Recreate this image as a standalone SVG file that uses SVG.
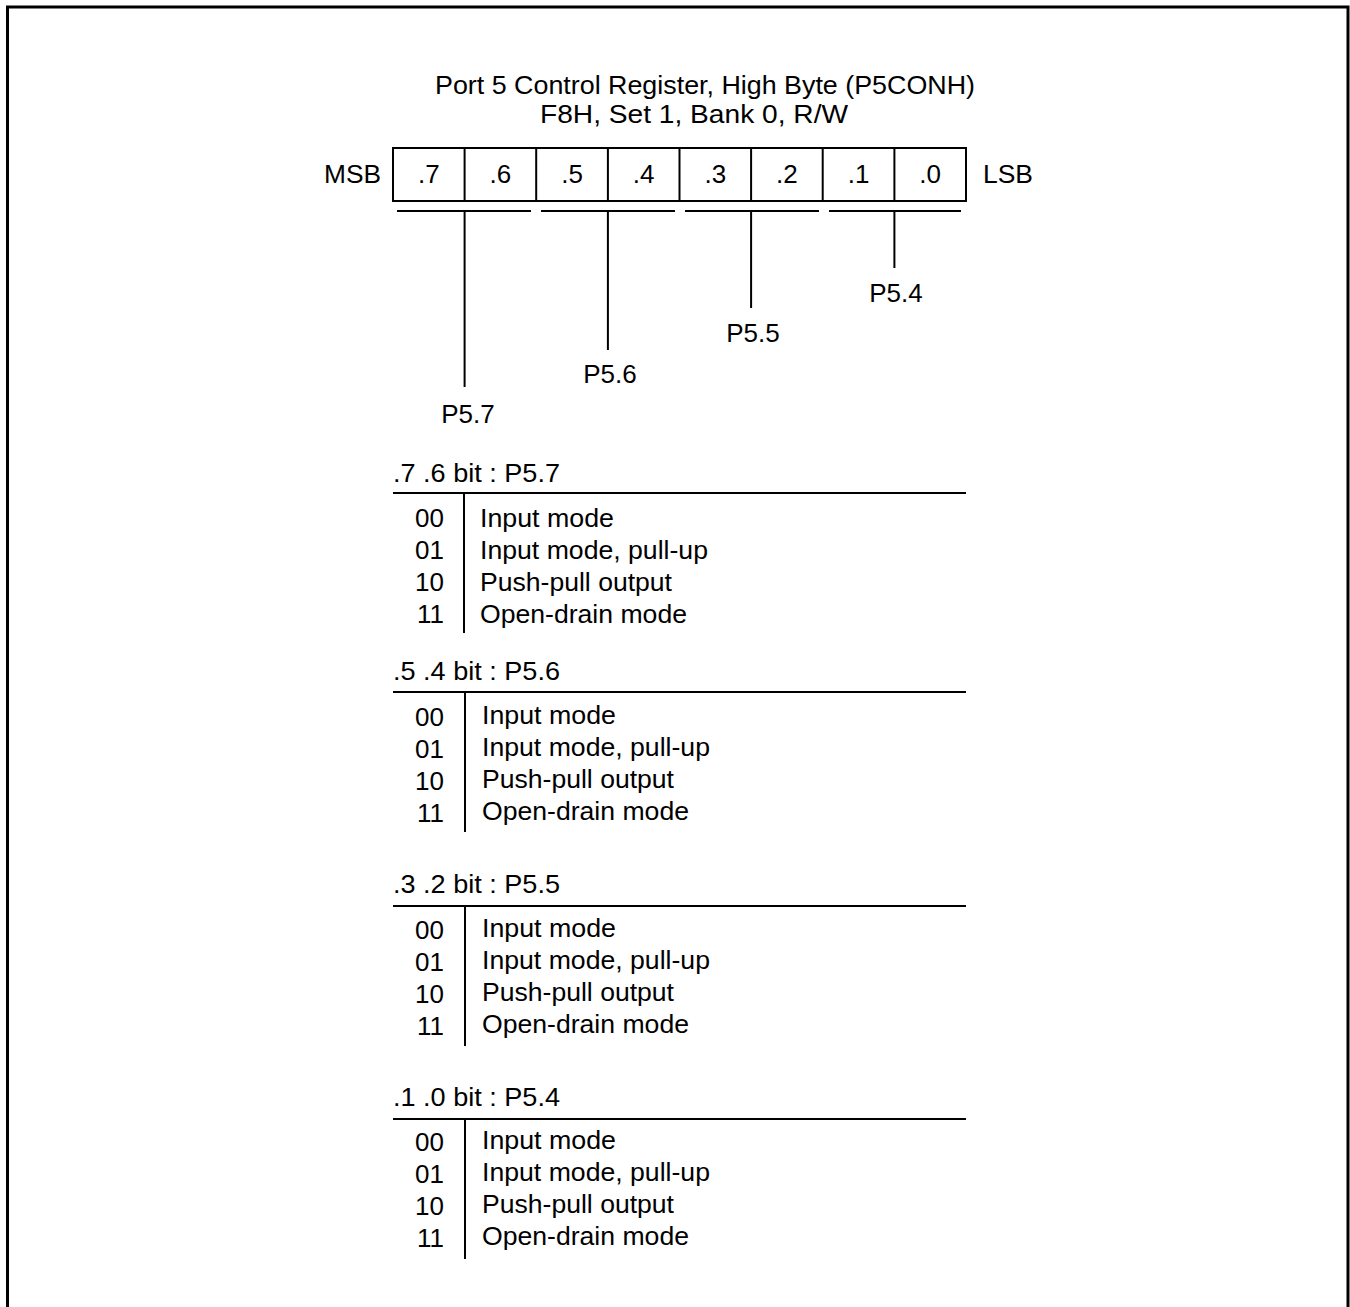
<svg xmlns="http://www.w3.org/2000/svg" width="1350" height="1307" viewBox="0 0 1350 1307">
<style>
text{font-family:"Liberation Sans",Arial,sans-serif;font-size:26px;fill:#000}
.c{text-anchor:middle}
.r{text-anchor:end}
.ln{stroke:#000;stroke-width:2;fill:none}
</style>
<rect width="1350" height="1307" fill="#fff"/>
<path d="M7.5,1307 V7 H1348 V1307" stroke="#000" stroke-width="3" fill="none"/>
<g id="title">
<text x="435" y="94" textLength="540" lengthAdjust="spacingAndGlyphs">Port 5 Control Register, High Byte (P5CONH)</text>
<text x="540" y="123" textLength="308" lengthAdjust="spacingAndGlyphs">F8H, Set 1, Bank 0, R/W</text>
</g>
<g id="register">
<text x="324" y="183" textLength="57" lengthAdjust="spacingAndGlyphs">MSB</text>
<rect class="ln" x="393" y="148" width="573" height="53"/>
<path class="ln" d="M464.6,148V201M536.2,148V201M607.9,148V201M679.5,148V201M751.1,148V201M822.7,148V201M894.4,148V201"/>
<text class="c" x="428.8" y="183">.7</text>
<text class="c" x="500.4" y="183">.6</text>
<text class="c" x="572" y="183">.5</text>
<text class="c" x="643.7" y="183">.4</text>
<text class="c" x="715.3" y="183">.3</text>
<text class="c" x="786.9" y="183">.2</text>
<text class="c" x="858.5" y="183">.1</text>
<text class="c" x="930.2" y="183">.0</text>
<text x="983" y="183" textLength="50" lengthAdjust="spacingAndGlyphs">LSB</text>
</g>
<g id="connectors">
<path class="ln" d="M397,211H531M541,211H675M685,211H819M829,211H961"/>
<path class="ln" d="M464.6,211V387M607.9,211V350M751.1,211V308M894.4,211V268"/>
</g>
<g id="p57"><text class="c" x="468" y="423">P5.7</text></g>
<g id="p56"><text class="c" x="610" y="383">P5.6</text></g>
<g id="p55"><text class="c" x="753" y="342">P5.5</text></g>
<g id="p54"><text class="c" x="896" y="302">P5.4</text></g>
<g id="sec76">
<text x="393" y="482" textLength="167" lengthAdjust="spacingAndGlyphs">.7 .6 bit : P5.7</text>
<path class="ln" d="M393,493H966M464,493V633"/>
<text class="r" x="444" y="527">00</text><text x="480" y="527" textLength="134" lengthAdjust="spacingAndGlyphs">Input mode</text>
<text class="r" x="444" y="559">01</text><text x="480" y="559" textLength="228" lengthAdjust="spacingAndGlyphs">Input mode, pull-up</text>
<text class="r" x="444" y="591">10</text><text x="480" y="591" textLength="192" lengthAdjust="spacingAndGlyphs">Push-pull output</text>
<text class="r" x="444" y="623">11</text><text x="480" y="623" textLength="207" lengthAdjust="spacingAndGlyphs">Open-drain mode</text>
</g>
<g id="sec54">
<text x="393" y="680" textLength="167" lengthAdjust="spacingAndGlyphs">.5 .4 bit : P5.6</text>
<path class="ln" d="M393,692H966M465,692V832"/>
<text class="r" x="444" y="726">00</text><text x="482" y="724" textLength="134" lengthAdjust="spacingAndGlyphs">Input mode</text>
<text class="r" x="444" y="758">01</text><text x="482" y="756" textLength="228" lengthAdjust="spacingAndGlyphs">Input mode, pull-up</text>
<text class="r" x="444" y="790">10</text><text x="482" y="788" textLength="192" lengthAdjust="spacingAndGlyphs">Push-pull output</text>
<text class="r" x="444" y="822">11</text><text x="482" y="820" textLength="207" lengthAdjust="spacingAndGlyphs">Open-drain mode</text>
</g>
<g id="sec32">
<text x="393" y="893" textLength="167" lengthAdjust="spacingAndGlyphs">.3 .2 bit : P5.5</text>
<path class="ln" d="M393,906H966M465,906V1046"/>
<text class="r" x="444" y="939">00</text><text x="482" y="937" textLength="134" lengthAdjust="spacingAndGlyphs">Input mode</text>
<text class="r" x="444" y="971">01</text><text x="482" y="969" textLength="228" lengthAdjust="spacingAndGlyphs">Input mode, pull-up</text>
<text class="r" x="444" y="1003">10</text><text x="482" y="1001" textLength="192" lengthAdjust="spacingAndGlyphs">Push-pull output</text>
<text class="r" x="444" y="1035">11</text><text x="482" y="1033" textLength="207" lengthAdjust="spacingAndGlyphs">Open-drain mode</text>
</g>
<g id="sec10">
<text x="393" y="1106" textLength="167" lengthAdjust="spacingAndGlyphs">.1 .0 bit : P5.4</text>
<path class="ln" d="M393,1119H966M465,1119V1259"/>
<text class="r" x="444" y="1151">00</text><text x="482" y="1149" textLength="134" lengthAdjust="spacingAndGlyphs">Input mode</text>
<text class="r" x="444" y="1183">01</text><text x="482" y="1181" textLength="228" lengthAdjust="spacingAndGlyphs">Input mode, pull-up</text>
<text class="r" x="444" y="1215">10</text><text x="482" y="1213" textLength="192" lengthAdjust="spacingAndGlyphs">Push-pull output</text>
<text class="r" x="444" y="1247">11</text><text x="482" y="1245" textLength="207" lengthAdjust="spacingAndGlyphs">Open-drain mode</text>
</g>
</svg>
